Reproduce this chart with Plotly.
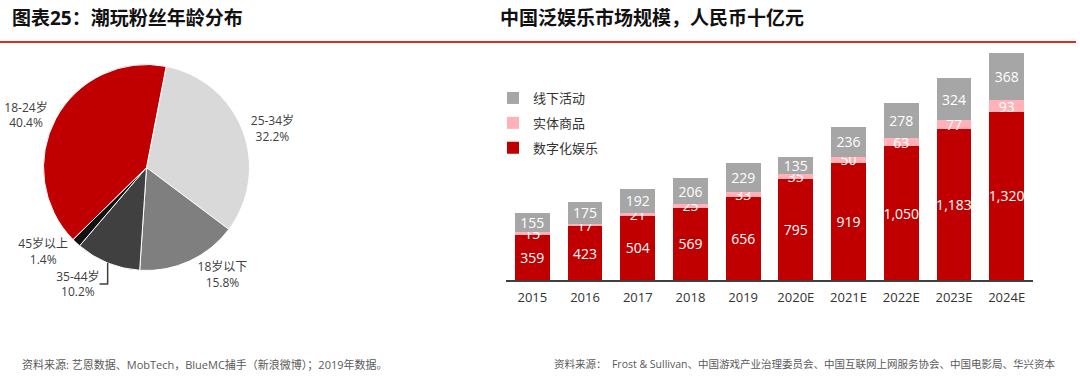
import plotly.graph_objects as go

# ---- Pie data ----
age_labels = ["25-34岁", "18岁以下", "35-44岁", "45岁以上", "18-24岁"]
age_share = [32.2, 15.8, 10.2, 1.4, 40.4]
age_colors = ["#D9D9D9", "#7F7F7F", "#404040", "#111111", "#C00000"]

# ---- Bar data ----
years = ["2015", "2016", "2017", "2018", "2019", "2020E", "2021E", "2022E", "2023E", "2024E"]
digital = [359, 423, 504, 569, 656, 795, 919, 1050, 1183, 1320]
physical = [15, 17, 21, 25, 33, 35, 50, 63, 77, 93]
offline = [155, 175, 192, 206, 229, 135, 236, 278, 324, 368]
series_names = ["数字化娱乐", "实体商品", "线下活动"]
series_colors = ["#C00000", "#FFB3B8", "#A6A6A6"]
legend_ranks = [3, 2, 1]

FONT = "Open Sans, Noto Sans CJK SC, sans-serif"
W, H = 1080, 376

fig = go.Figure()

fig.add_trace(go.Pie(
    labels=age_labels, values=age_share, sort=False, direction="clockwise",
    rotation=11, marker=dict(colors=age_colors, line=dict(color="white", width=1)),
    texttemplate="%{label}<br>%{percent:.1%}", textposition="outside",
    textfont=dict(family=FONT, size=12, color="#404040"),
    showlegend=False, automargin=False, hoverinfo="label+percent",
    domain=dict(x=[(146.5 - 103) / W, (146.5 + 103) / W],
                y=[(H - 167.5 - 103) / H, (H - 167.5 + 103) / H]),
))

for name, vals, col, rk in zip(series_names, [digital, physical, offline], series_colors, legend_ranks):
    fig.add_trace(go.Bar(
        x=years, y=vals, name=name, marker=dict(color=col, line=dict(width=0)),
        texttemplate="%{y:,}", textposition="inside", insidetextanchor="middle",
        constraintext="none", textangle=0,
        textfont=dict(family=FONT, size=14, color="white"),
        legendgroup=name, legendrank=rk, xaxis="x", yaxis="y",
    ))

fig.update_layout(
    width=W, height=H, margin=dict(l=0, r=0, t=0, b=0),
    paper_bgcolor="white", plot_bgcolor="white",
    barmode="stack", bargap=0.34,
    font=dict(family=FONT, color="#333333"),
    xaxis=dict(domain=[506 / W, 1033 / W], showline=True, linecolor="#404040", linewidth=1.5,
               ticks="", showgrid=False, zeroline=False, ticklabelstandoff=5,
               tickfont=dict(family=FONT, size=13, color="#333333")),
    yaxis=dict(domain=[(H - 280) / H, (H - 50) / H], range=[0, 1807], visible=False,
               showgrid=False, zeroline=False),
    legend=dict(x=493 / W, y=(H - 83) / H, xanchor="left", yanchor="top",
                traceorder="grouped", tracegroupgap=5,
                font=dict(family=FONT, size=13, color="#333333"), bgcolor="rgba(0,0,0,0)"),
    shapes=[dict(type="line", xref="paper", yref="paper", x0=0, x1=1076 / W,
                 y0=(H - 42) / H, y1=(H - 42) / H, line=dict(color="#E02A2A", width=2))],
    annotations=[
        dict(text="<b>图表25：潮玩粉丝年龄分布</b>", xref="paper", yref="paper",
             x=10 / W, y=(H - 18) / H, xanchor="left", yanchor="middle", showarrow=False,
             font=dict(family=FONT, size=19, color="#111111")),
        dict(text="<b>中国泛娱乐市场规模，人民币十亿元</b>", xref="paper", yref="paper",
             x=498 / W, y=(H - 18) / H, xanchor="left", yanchor="middle", showarrow=False,
             font=dict(family=FONT, size=19, color="#111111")),
        dict(text="资料来源: 艺恩数据、MobTech，BlueMC捕手（新浪微博）；2019年数据。",
             xref="paper", yref="paper", x=20 / W, y=(H - 364) / H, xanchor="left",
             yanchor="middle", showarrow=False,
             font=dict(family=FONT, size=11, color="#595959")),
        dict(text="资料来源：  Frost & Sullivan、中国游戏产业治理委员会、中国互联网上网服务协会、中国电影局、华兴资本",
             xref="paper", yref="paper", x=552 / W, y=(H - 364) / H, xanchor="left",
             yanchor="middle", showarrow=False,
             font=dict(family=FONT, size=10.5, color="#595959")),
    ],
)

fig.write_html("out.html", config={"displayModeBar": False},
               post_script="document.body.style.margin='0';")
